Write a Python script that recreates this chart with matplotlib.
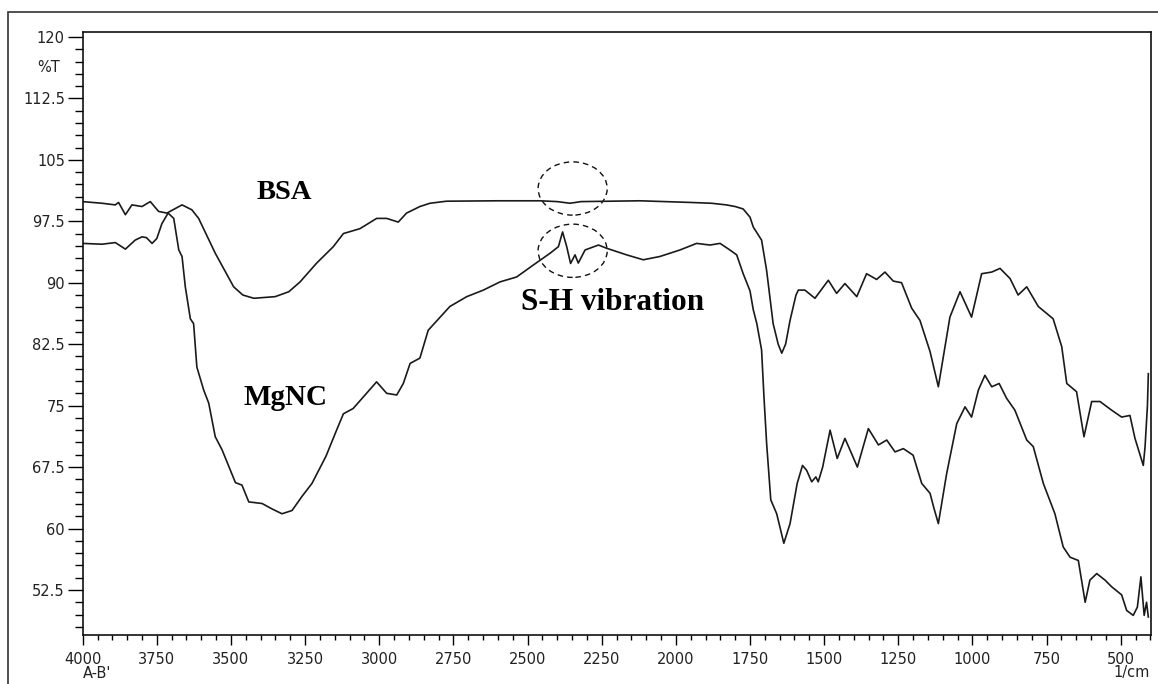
import matplotlib
matplotlib.use("Agg")
import matplotlib.pyplot as plt
from matplotlib.patches import Ellipse, Rectangle
from matplotlib.ticker import FixedLocator, MultipleLocator

#BSA spectrum (wavenumber in 1/cm, transmittance in %T)
bsa_wn = [4000, 3935, 3890, 3879, 3856, 3834, 3800, 3772, 3744, 3716, 3665, 3632,
          3609, 3553, 3491, 3460, 3423, 3351, 3305, 3267, 3211, 3155, 3121, 3065, 3009,
          2975, 2936, 2908, 2863, 2829, 2773, 2600, 2458, 2400, 2357, 2320, 2121,
          1952, 1880, 1830, 1800, 1773, 1750, 1739, 1711, 1694, 1672, 1655, 1643,
          1630, 1615, 1595, 1587, 1565, 1531, 1486, 1458, 1430, 1390, 1357, 1323,
          1295, 1267, 1239, 1205, 1177, 1143, 1115, 1076, 1042, 1003, 969, 935,
          907, 873, 846, 817, 778, 728, 699, 682, 649, 624, 598, 570, 531, 497,
          469, 452, 424, 418, 410, 407]
bsa_t = [99.9, 99.7, 99.5, 99.8, 98.3, 99.5, 99.3, 99.9, 98.7, 98.5, 99.5, 98.9,
         97.85, 93.6, 89.5, 88.5, 88.1, 88.3, 88.9, 90.1, 92.4, 94.4, 96.0, 96.6, 97.85,
         97.85, 97.4, 98.5, 99.3, 99.7, 99.95, 100.0, 100.0, 99.9, 99.7, 99.9, 100.0,
         99.8, 99.7, 99.5, 99.3, 99.0, 98.0, 96.8, 95.2, 91.5, 85.0, 82.5, 81.4,
         82.5, 85.4, 88.5, 89.1, 89.1, 88.1, 90.3, 88.7, 89.9, 88.3, 91.1, 90.4,
         91.3, 90.2, 90.0, 86.9, 85.4, 81.6, 77.3, 85.8, 88.9, 85.8, 91.1, 91.3,
         91.75, 90.5, 88.5, 89.5, 87.1, 85.6, 82.2, 77.7, 76.7, 71.2, 75.5, 75.5, 74.45, 73.6,
         73.8, 71.0, 67.7, 70.0, 75.0, 78.9]

#MgNC spectrum
mgnc_wn = [4000, 3935, 3890, 3856, 3823, 3800, 3785, 3766, 3750, 3733, 3712, 3693,
           3676, 3665, 3654, 3637, 3626, 3615, 3592, 3575, 3553, 3530, 3502, 3485,
           3463, 3440, 3395, 3362, 3328, 3294, 3261, 3227, 3180, 3144, 3121, 3088,
           3043, 3009, 2975, 2941, 2919, 2896, 2863, 2835, 2795, 2762, 2705, 2649,
           2593, 2537, 2481, 2424, 2396, 2382, 2368, 2355, 2340, 2329, 2306, 2261,
           2233, 2166, 2110, 2054, 1986, 1930, 1885, 1851, 1818, 1795, 1773, 1750,
           1739, 1727, 1711, 1703, 1694, 1680, 1660, 1636, 1615, 1591, 1573, 1559,
           1542, 1528, 1520, 1505, 1480, 1456, 1430, 1413, 1388, 1351, 1317, 1289,
           1261, 1233, 1200, 1171, 1143, 1130, 1115, 1087, 1053, 1025, 1003, 980,
           958, 935, 910, 885, 857, 817, 795, 761, 722, 694, 671, 643, 620, 604,
           581, 553, 531, 497, 480, 458, 444, 432, 421, 413, 407]
mgnc_t = [94.8, 94.7, 94.9, 94.1, 95.2, 95.6, 95.5, 94.8, 95.4, 97.2, 98.5, 97.85,
          94.0, 93.2, 89.5, 85.6, 85.0, 79.7, 76.9, 75.3, 71.2, 69.6, 67.1, 65.6,
          65.3, 63.25, 63.05, 62.4, 61.8, 62.2, 63.9, 65.5, 68.8, 72.0, 74.0, 74.65,
          76.5, 77.9, 76.5, 76.3, 77.7, 80.15, 80.8, 84.2, 85.8, 87.1, 88.3, 89.1,
          90.1, 90.7, 92.15, 93.6, 94.4, 96.2, 94.4, 92.35, 93.4, 92.4, 94.0, 94.6,
          94.2, 93.4, 92.8, 93.2, 94.0, 94.8, 94.6, 94.8, 94.0, 93.4, 91.1, 89.0,
          86.7, 85.0, 81.8, 76.1, 70.4, 63.5, 61.8, 58.2, 60.6, 65.5, 67.7, 67.1,
          65.7, 66.3, 65.7, 67.5, 72.0, 68.55, 71.0, 69.6, 67.5, 72.2, 70.2, 70.8,
          69.35, 69.75, 68.95, 65.5, 64.3, 62.5, 60.6, 66.7, 72.8, 74.85, 73.6, 76.9,
          78.7, 77.3, 77.7, 75.9, 74.45, 70.8, 70.0, 65.5, 61.8, 57.75, 56.5, 56.1, 51.0, 53.7,
          54.5, 53.7, 52.9, 51.9, 50.0, 49.4, 50.4, 54.1, 49.4, 51.0, 49.2]

y_ticks = [52.5, 60, 67.5, 75, 82.5, 90, 97.5, 105, 112.5, 120]
x_ticks = [4000, 3750, 3500, 3250, 3000, 2750, 2500, 2250, 2000, 1750, 1500, 1250, 1000, 750, 500]


def main():
    fig = plt.figure(figsize=(11.58, 6.84), dpi=100)
    ax = fig.add_axes([0.0714, 0.0716, 0.9223, 0.8816])

    line_col = "#1a1a1a"
    ax.plot(bsa_wn, bsa_t, color=line_col, lw=1.2)
    ax.plot(mgnc_wn, mgnc_t, color=line_col, lw=1.2)

    ax.set_xlim(4000, 399)
    ax.set_ylim(47.0, 120.6)

    #ticks like the instrument software: outward, minor every 50 / 1.5
    ax.xaxis.set_major_locator(FixedLocator(x_ticks))
    ax.xaxis.set_minor_locator(MultipleLocator(50))
    ax.yaxis.set_major_locator(FixedLocator(y_ticks))
    ax.yaxis.set_minor_locator(MultipleLocator(1.5))
    ax.set_yticklabels(["%g" % v for v in y_ticks])
    ax.set_xticklabels([str(v) for v in x_ticks])

    ax.tick_params(axis="x", which="major", direction="out", length=7.2, width=1.0,
                   labelsize=10.5, labelcolor="#222222", pad=5)
    ax.tick_params(axis="x", which="minor", direction="out", length=3.6, width=1.0)
    ax.tick_params(axis="y", which="major", direction="out", length=10.8, width=1.0,
                   labelsize=10.5, labelcolor="#222222", pad=2)
    ax.tick_params(axis="y", which="minor", direction="out", length=5.8, width=1.0)

    for s in ax.spines.values():
        s.set_linewidth(1.2)
        s.set_color("#111111")

    #axis captions
    fig.text(60 / 1158, 1 - 68 / 684, "%T", ha="right", va="center", fontsize=10.5, color="#222222")
    fig.text(83 / 1158, 1 - 673 / 684, "A-B'", ha="left", va="center", fontsize=10.5, color="#222222")
    fig.text(1150 / 1158, 1 - 673 / 684, "1/cm", ha="right", va="center", fontsize=10.5, color="#222222")

    #annotations
    serif = "Liberation Serif"
    ax.text(3321, 101.0, "BSA", family=serif, weight="bold", fontsize=20.5, ha="center", va="center")
    ax.text(3315, 76.0, "MgNC", family=serif, weight="bold", fontsize=21, ha="center", va="center")
    ax.text(2212, 87.6, "S-H vibration", family=serif, weight="bold", fontsize=22.5, ha="center", va="center")

    for cy in (101.5, 93.9):
        ax.add_patch(Ellipse((2348, cy), 233, 6.5, fill=False, ec="#111111", lw=1.0,
                             ls=(0, (4, 3))))

    #outer frame around the whole picture
    fig.patches.append(Rectangle((8 / 1158, -0.05), 1.05, 1 - 12 / 684 + 0.05,
                                 transform=fig.transFigure, fill=False,
                                 ec="#333333", lw=1.2))

    fig.savefig("out.png", dpi=100)


if __name__ == "__main__":
    main()
